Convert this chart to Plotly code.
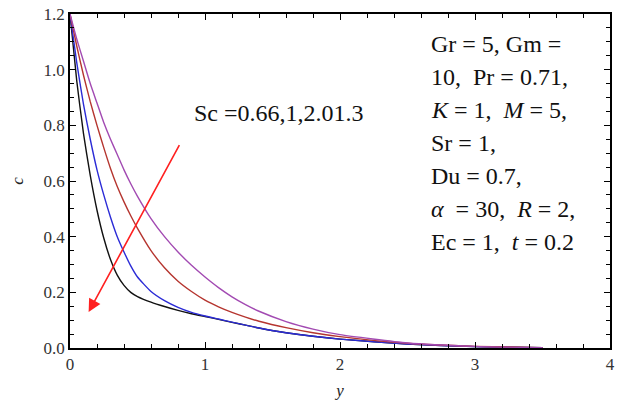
import plotly.graph_objects as go

# ---- data ----
y_grid = [0, 0.05, 0.1, 0.15, 0.2, 0.25, 0.3, 0.35, 0.4, 0.45, 0.5, 0.6, 0.7, 0.8, 0.9,
          1.0, 1.1, 1.2, 1.3, 1.4, 1.6, 1.8, 2.0, 2.5, 3.0, 3.5]
c_black = [1.2, 0.96, 0.77, 0.62, 0.495, 0.395, 0.318, 0.262, 0.225, 0.200, 0.185, 0.165,
           0.149, 0.135, 0.123, 0.113, 0.103, 0.092, 0.082, 0.072, 0.055, 0.042, 0.032,
           0.014, 0.005, 0.001]
c_blue = [1.2, 1.025, 0.875, 0.75, 0.64, 0.55, 0.47, 0.40, 0.345, 0.295, 0.255, 0.203,
          0.17, 0.146, 0.128, 0.115, 0.104, 0.093, 0.082, 0.072, 0.055, 0.042, 0.032,
          0.014, 0.005, 0.001]
c_red = [1.2, 1.085, 0.98, 0.885, 0.80, 0.72, 0.645, 0.58, 0.525, 0.475, 0.43, 0.35,
         0.288, 0.24, 0.203, 0.172, 0.148, 0.128, 0.111, 0.096, 0.073, 0.055, 0.041,
         0.017, 0.006, 0.001]
c_purple = [1.2, 1.11, 1.03, 0.95, 0.88, 0.81, 0.75, 0.695, 0.64, 0.59, 0.545, 0.465,
            0.40, 0.345, 0.297, 0.255, 0.217, 0.184, 0.156, 0.132, 0.095, 0.068, 0.048,
            0.018, 0.006, 0.001]

series = [
    ("Sc = 1.3", c_black, "#111111"),
    ("Sc = 2.01", c_blue, "#2b2bd6"),
    ("Sc = 1", c_red, "#b5352f"),
    ("Sc = 0.66", c_purple, "#a24ab2"),
]

x_ticks = [0, 1, 2, 3, 4]
y_ticks = [0.0, 0.2, 0.4, 0.6, 0.8, 1.0, 1.2]
y_tick_labels = ["0.0", "0.2", "0.4", "0.6", "0.8", "1.0", "1.2"]

arrow_tail = (0.816, 0.734)
arrow_head = (0.138, 0.129)
sc_label = "Sc =0.66,1,2.01.3"
param_lines = [
    "Gr = 5, Gm =",
    "10,  Pr = 0.71,",
    "<i>K</i> = 1,  <i>M</i> = 5,",
    "Sr = 1,",
    "Du = 0.7,",
    "<i>α</i>  = 30,  <i>R</i> = 2,",
    "Ec = 1,  <i>t</i> = 0.2",
]

FONT = "Liberation Serif, Times New Roman, serif"

fig = go.Figure()
for name, vals, col in series:
    fig.add_trace(go.Scatter(x=y_grid, y=vals, mode="lines", name=name,
                             line=dict(color=col, width=1.4, shape="spline", smoothing=0.5),
                             showlegend=False))

fig.add_annotation(x=arrow_head[0], y=arrow_head[1], ax=arrow_tail[0], ay=arrow_tail[1],
                   xref="x", yref="y", axref="x", ayref="y", text="",
                   showarrow=True, arrowhead=2, arrowsize=1.6, arrowwidth=1.6,
                   arrowcolor="#ff2020")

fig.add_annotation(x=(192 - 70) / 540, y=(348 - 113) / 334, xref="paper", yref="paper",
                   text=sc_label, showarrow=False, xanchor="left", yanchor="middle",
                   font=dict(family=FONT, size=24, color="#111"))

line_y_px = [44, 77, 110, 143, 176, 209, 242]
for txt, py in zip(param_lines, line_y_px):
    fig.add_annotation(x=(429 - 70) / 540, y=(348 - py) / 334, xref="paper", yref="paper",
                       text=txt, showarrow=False, xanchor="left", yanchor="middle",
                       font=dict(family=FONT, size=24, color="#111"))

axis_common = dict(showline=True, linecolor="black", linewidth=1.5, mirror="allticks",
                   ticks="inside", ticklen=6, tickwidth=1.2, tickcolor="black",
                   showgrid=False, zeroline=False, automargin=False,
                   tickfont=dict(family=FONT, size=17, color="#333"))

fig.update_xaxes(range=[0, 4], tickvals=x_ticks, ticktext=[str(v) for v in x_ticks],
                 minor=dict(dtick=0.2, ticks="inside", ticklen=4, tickcolor="black", tickwidth=1),
                 title=dict(text="<i>y</i>", font=dict(family=FONT, size=17, color="#222"),
                            standoff=11),
                 **axis_common)
fig.update_yaxes(range=[0, 1.2], tickvals=y_ticks, ticktext=y_tick_labels,
                 minor=dict(dtick=0.05, ticks="inside", ticklen=4, tickcolor="black", tickwidth=1),
                 title=dict(text="<i>c</i>", font=dict(family=FONT, size=17, color="#222"),
                            standoff=16),
                 **axis_common)

fig.update_layout(width=620, height=406, margin=dict(l=70, r=10, t=14, b=58),
                  plot_bgcolor="white", paper_bgcolor="white")

fig.write_html("out.html")
